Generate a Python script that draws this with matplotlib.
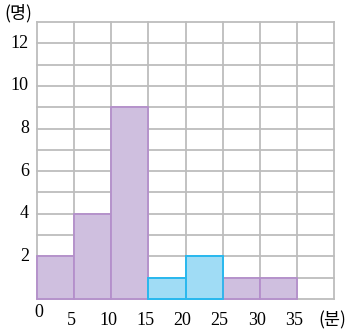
import numpy as np
import matplotlib.pyplot as plt

# class boundaries (minutes) and frequencies (people)
edges = [0, 5, 10, 15, 20, 25, 30, 35]
counts = [2, 4, 9, 1, 2, 1, 1]
highlight = [False, False, False, True, True, False, False]
xticks = [5, 10, 15, 20, 25, 30, 35]
yticks = [2, 4, 6, 8, 10, 12]

purple_fc, purple_ec = '#CFBFDF', '#B48FCB'
blue_fc, blue_ec = '#A0DCF5', '#2AB8EE'
grid_c = '#BDBDBD'

serif = ['Liberation Serif', 'DejaVu Serif']
cjk = ['Noto Sans CJK KR', 'DejaVu Sans']

fig = plt.figure(figsize=(3.5, 3.32), dpi=100)
ax = fig.add_axes([37 / 350, 33 / 332, 297 / 350, 277 / 332])

ax.set_xlim(0, 40)
ax.set_ylim(0, 13)
ax.set_clip_on(False)

# grid
for x in range(0, 41, 5):
    ax.axvline(x, color=grid_c, linewidth=1.3, zorder=1, clip_on=False)
for y in range(0, 14):
    ax.axhline(y, color=grid_c, linewidth=1.3, zorder=1, clip_on=False)

for i, c in enumerate(counts):
    fc, ec = (blue_fc, blue_ec) if highlight[i] else (purple_fc, purple_ec)
    ax.bar(edges[i], c, width=5, align='edge', color=fc, edgecolor=ec,
           linewidth=1.3, zorder=2, clip_on=False)
# blue outlines on top of neighbouring purple edges
for i, c in enumerate(counts):
    if highlight[i]:
        ax.bar(edges[i], c, width=5, align='edge', facecolor='none',
               edgecolor=blue_ec, linewidth=1.3, zorder=3, clip_on=False)

for s in ax.spines.values():
    s.set_visible(False)
ax.set_xticks([])
ax.set_yticks([])

for y in yticks:
    ax.text(-1.1, y, str(y), ha='right', va='center', fontsize=13,
            family=serif)
for x in xticks:
    ax.text(x - 0.4, -1.0, str(x), ha='center', va='center', fontsize=13,
            family=serif)
ax.text(0.3, -0.65, '0', ha='center', va='center', fontsize=13, family=serif)

fig.text(18 / 350, 1 - 13 / 332, '(명)', ha='center', va='center',
         fontsize=12.5, family=cjk)
fig.text(332 / 350, 1 - 320 / 332, '(분)', ha='center', va='center',
         fontsize=12.5, family=cjk)

fig.savefig('out.png', dpi=100, facecolor='white')
